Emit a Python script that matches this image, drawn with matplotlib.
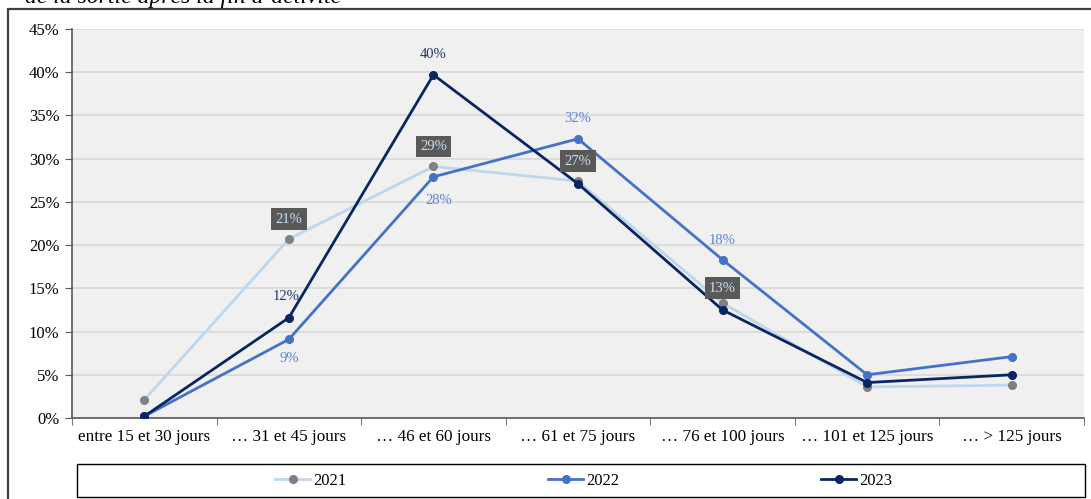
import matplotlib
matplotlib.use("Agg")
import matplotlib.pyplot as plt
from matplotlib.patches import Rectangle
from matplotlib import ticker as mtick
import numpy as np

plt.rcParams["font.family"] = ["Liberation Serif", "DejaVu Serif"]

# délais de sortie
categories = ["entre 15 et 30 jours", "… 31 et 45 jours", "… 46 et 60 jours",
              "… 61 et 75 jours", "… 76 et 100 jours", "… 101 et 125 jours",
              "… > 125 jours"]
vals_2021 = [2.1, 20.7, 29.1, 27.4, 13.3, 3.6, 3.8]
vals_2022 = [0.2, 9.1, 27.9, 32.3, 18.3, 5.0, 7.1]
vals_2023 = [0.2, 11.6, 39.7, 27.1, 12.5, 4.1, 5.0]
yticks = [0, 5, 10, 15, 20, 25, 30, 35, 40, 45]

# étiquettes affichées : (indice, décalage x, décalage y en pixels)
labels_2021 = [(1, 0, 20), (2, 0, 20), (3, 0, 20), (4, 0, 15)]
labels_2022 = [(1, 0, -19), (2, 5, -24), (3, 0, 20), (4, 0, 19)]
labels_2023 = [(1, -3, 21), (2, 0, 20)]

W, H = 1091, 499
fig = plt.figure(figsize=(W / 100, H / 100), dpi=100)
ax = fig.add_axes([72 / W, 1 - 418 / H, (1084 - 72) / W, (418 - 29) / H])

x = np.arange(len(categories))
c21, c22, c23 = "#BDD7EE", "#4472C4", "#0B2462"

ax.set_facecolor("#F0F0F0")
ax.plot(x, vals_2021, color=c21, lw=2, marker="o", ms=5.5, mfc="#808080", mec="#808080", label="2021", zorder=3)
ax.plot(x, vals_2022, color=c22, lw=2, marker="o", ms=5.5, label="2022", zorder=4)
ax.plot(x, vals_2023, color=c23, lw=2, marker="o", ms=5.5, label="2023", zorder=5)

for i, dx, dy in labels_2021:
    ax.annotate("%d%%" % round(vals_2021[i]), (x[i], vals_2021[i]), xytext=(dx, dy),
                textcoords="offset pixels", ha="center", va="center", fontsize=10.5,
                color="#C9DDF0", zorder=6,
                bbox=dict(boxstyle="square,pad=0.3", fc="#595959", ec="none"))
for i, dx, dy in labels_2022:
    ax.annotate("%d%%" % round(vals_2022[i]), (x[i], vals_2022[i]), xytext=(dx, dy),
                textcoords="offset pixels", ha="center", va="center", fontsize=10.5,
                color="#5B83D6", zorder=6)
for i, dx, dy in labels_2023:
    ax.annotate("%d%%" % round(vals_2023[i]), (x[i], vals_2023[i]), xytext=(dx, dy),
                textcoords="offset pixels", ha="center", va="center", fontsize=10.5,
                color="#1F3864", zorder=6)

ax.set_xlim(-0.5, len(categories) - 0.5)
ax.set_ylim(0, 45)
ax.set_yticks(yticks)
ax.yaxis.set_major_formatter(mtick.FuncFormatter(lambda v, p: "%d%%" % v))
ax.set_xticks(x)
ax.set_xticklabels(categories)
ax.set_xticks(np.arange(len(categories) + 1) - 0.5, minor=True)
ax.tick_params(axis="x", which="major", length=0, pad=8, labelsize=12.3)
ax.tick_params(axis="x", which="minor", length=5, color="#595959")
ax.tick_params(axis="y", length=5, color="#595959", labelsize=12, pad=4)
ax.grid(axis="y", color="#D9D9D9", lw=1.2)
ax.set_axisbelow(True)
for s in ["top", "right"]:
    ax.spines[s].set_visible(False)
for s in ["left", "bottom"]:
    ax.spines[s].set_color("#595959")
    ax.spines[s].set_linewidth(1.2)

leg = ax.legend(loc="center", bbox_to_anchor=((584 - 72) / 1012, (418 - 481) / 389),
                ncol=3, frameon=False, fontsize=12, handlelength=2.1,
                handletextpad=0.2, columnspacing=12.1, borderaxespad=0)

# cadre de la légende et cadre extérieur
fig.patches.append(Rectangle((77 / W, 1 - 497 / H), (1085 - 77) / W, 33 / H,
                             transform=fig.transFigure, fill=False, ec="#000000", lw=1.0))
fig.patches.append(Rectangle((8 / W, -0.1), 1.2, 1.1 - 9 / H, transform=fig.transFigure,
                             fill=False, ec="#404040", lw=1.6))
fig.text(25 / W, 1 - 2.5 / H, "de la sortie après la fin d’activité", fontsize=17,
         style="italic", va="baseline", ha="left", color="#000000")

fig.savefig("out.png", dpi=100)
